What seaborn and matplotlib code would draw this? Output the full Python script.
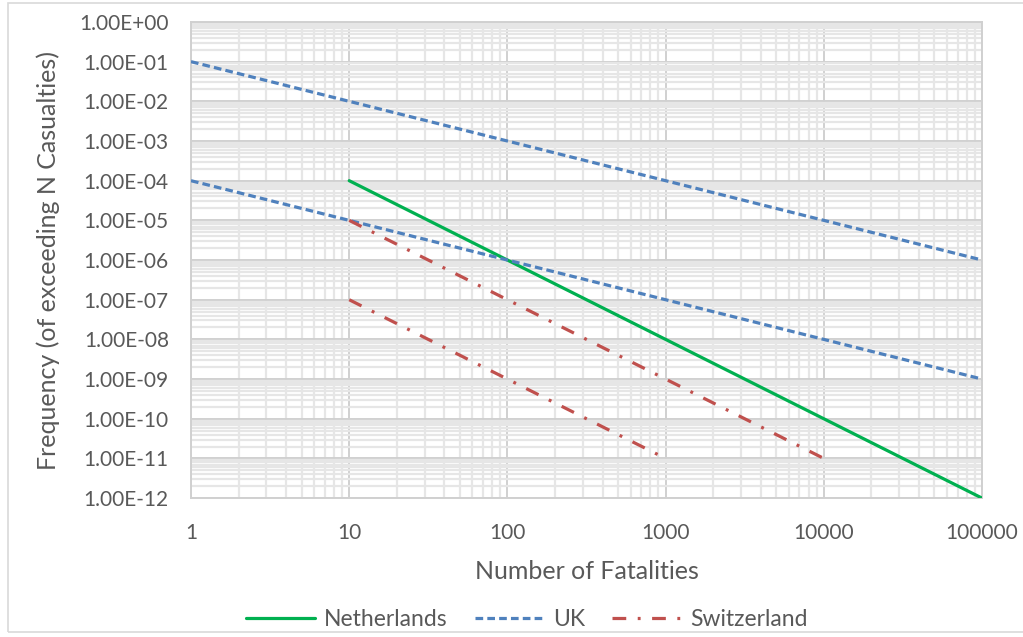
import numpy as np
import pandas as pd
import matplotlib
matplotlib.use("Agg")
import matplotlib.pyplot as plt
from matplotlib.lines import Line2D
from matplotlib.patches import Rectangle
from matplotlib.ticker import FixedLocator, FuncFormatter, NullFormatter
import seaborn as sns

# F-N criterion lines: frequency of exceeding N fatalities
nl_n = [10, 100000]
nl_f = [1e-4, 1e-12]

uk_n = [1, 100000]
uk_upper_f = [1e-1, 1e-6]
uk_lower_f = [1e-4, 1e-9]

ch_upper_n = [10, 10000]
ch_upper_f = [1e-5, 1e-11]
ch_lower_n = [10, 1000]
ch_lower_f = [1e-7, 1e-11]

countries = ["Netherlands", "UK", "Switzerland"]
x_ticks = [1, 10, 100, 1000, 10000, 100000]
y_ticks = [10.0 ** k for k in range(-12, 1)]

segments = [
    ("Netherlands", "nl", nl_n, nl_f),
    ("UK", "uk_upper", uk_n, uk_upper_f),
    ("UK", "uk_lower", uk_n, uk_lower_f),
    ("Switzerland", "ch_upper", ch_upper_n, ch_upper_f),
    ("Switzerland", "ch_lower", ch_lower_n, ch_lower_f),
]
rows = []
for country, seg, ns, fs in segments:
    for n, f in zip(ns, fs):
        rows.append({"country": country, "segment": seg, "N": n, "F": f})
df = pd.DataFrame(rows)

sns.set_theme(style="white")
plt.rcParams["font.family"] = ["Lato", "DejaVu Sans"]

text_color = "#595959"
palette = {"Netherlands": "#00B050", "UK": "#4F81BD", "Switzerland": "#C0504D"}
dashes = {"Netherlands": "", "UK": (2.4, 1.3), "Switzerland": (4.3, 3.6, 0.9, 3.6)}

fig = plt.figure(figsize=(10.23, 6.37), dpi=100)
ax = fig.add_axes([0.1867, 0.218, 0.7733, 0.7475])

sns.lineplot(data=df, x="N", y="F", hue="country", style="country",
             units="segment", estimator=None, palette=palette,
             dashes=dashes, linewidth=2.3, legend=False, ax=ax, zorder=3)

ax.set_xscale("log")
ax.set_yscale("log")
ax.set_xlim(1, 100000)
ax.set_ylim(1e-12, 1)

ax.xaxis.set_major_locator(FixedLocator(x_ticks))
ax.yaxis.set_major_locator(FixedLocator(y_ticks))
ax.xaxis.set_minor_locator(FixedLocator(
    [m * 10.0 ** k for k in range(0, 5) for m in range(2, 10)]))
ax.yaxis.set_minor_locator(FixedLocator(
    [m * 10.0 ** k for k in range(-12, 0) for m in range(2, 10)]))
ax.xaxis.set_minor_formatter(NullFormatter())
ax.yaxis.set_minor_formatter(NullFormatter())
ax.xaxis.set_major_formatter(FuncFormatter(lambda v, p: f"{int(round(v))}"))


def sci_label(v, p):
    exp = int(round(np.log10(v)))
    sign = "+" if exp >= 0 else "-"
    return f"1.00E{sign}{abs(exp):02d}"


ax.yaxis.set_major_formatter(FuncFormatter(sci_label))

ax.grid(which="minor", color="#e6e6e6", linewidth=1.6, zorder=0)
ax.grid(which="major", color="#d0d0d0", linewidth=1.4, zorder=1)
ax.set_axisbelow(True)
for sp in ax.spines.values():
    sp.set_color("#d0d0d0")
    sp.set_linewidth(1.4)

ax.tick_params(which="both", length=0)
ax.tick_params(axis="x", pad=18, labelsize=15, labelcolor=text_color)
ax.tick_params(axis="y", pad=16, labelsize=15, labelcolor=text_color)

ax.set_xlabel("Number of Fatalities", fontsize=18, color=text_color, labelpad=12)
ax.set_ylabel("Frequency (of exceeding N Casualties)", fontsize=18,
              color=text_color, labelpad=14)

handles = [Line2D([0], [0], color=palette[c], linewidth=2.3,
                  dashes=dashes[c] if dashes[c] else (None, None),
                  linestyle="-" if not dashes[c] else "--")
           for c in countries]
fig.legend(handles, countries, loc="center", bbox_to_anchor=(0.515, 0.027),
           ncol=3, frameon=False, fontsize=16.5, labelcolor=text_color,
           handlelength=3.0, columnspacing=1.2, handletextpad=0.4)

fig.patches.append(Rectangle((0.008, 0.008), 1.2, 0.987, transform=fig.transFigure,
                             fill=False, edgecolor="#d9d9d9", linewidth=1.2))

fig.savefig("out.png", dpi=100, facecolor="white")
